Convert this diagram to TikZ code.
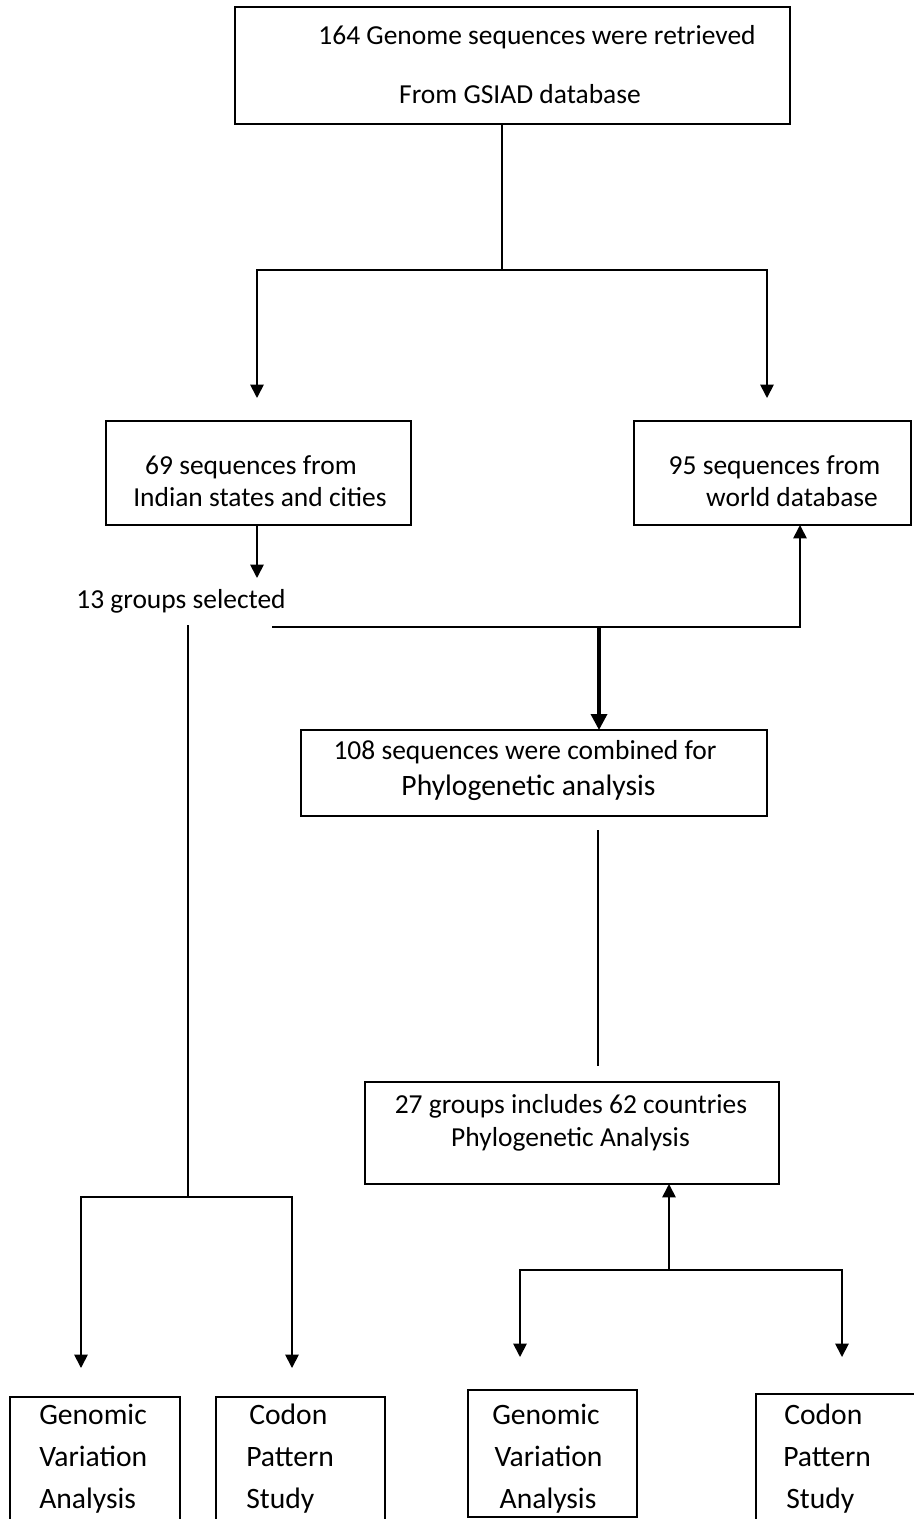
\documentclass[tikz,border=0pt]{standalone}
\usepackage{fontspec}
\setmainfont{Carlito}
\usetikzlibrary{arrows.meta,fit}
\begin{document}
\begin{tikzpicture}[x=0.75pt,y=-0.75pt,
  box/.style={draw,line width=1.3pt,inner sep=0pt,outer sep=0pt,rectangle},
  ln/.style={line width=1.3pt},
  thin/.style={line width=1pt},
  arr/.style={line width=1.3pt,-{Triangle[length=10pt,width=10pt]}},
  bigarr/.style={line width=2.6pt,-{Triangle[length=12pt,width=12pt]}},
  txt/.style={inner sep=0pt,anchor=base,font=\fontsize{20.6}{24}\selectfont},
  txtb/.style={inner sep=0pt,anchor=base,font=\fontsize{22.2}{26}\selectfont},
  txtw/.style={inner sep=0pt,anchor=base west,font=\fontsize{22.2}{26}\selectfont}]
\useasboundingbox (0,0) rectangle (913,1519);
% boxes
\node[box,fit={(235,7)(790,124)}] (T) {};
\node[box,fit={(106,421)(411,525)}] (L) {};
\node[box,fit={(634,421)(911,525)}] (R) {};
\node[box,fit={(301,730)(767,816)}] (C) {};
\node[box,fit={(365,1082)(779,1184)}] (D) {};
\node[box,fit={(10,1397)(180,1545)}] (B1) {};
\node[box,fit={(216,1397)(385,1545)}] (B2) {};
\node[box,fit={(468,1390)(637,1517)}] (B3) {};
\node[box,fit={(756,1394)(935,1545)}] (B4) {};
% texts
\node[txt] (t1) at (537,45) {164 Genome sequences were retrieved};
\node[txt] (t2) at (520,104) {From GSIAD database};
\node[txt] (l1) at (251,474) {69 sequences from};
\node[txt] (l2) at (260,506) {Indian states and cities};
\node[txt] (r1) at (774.5,474) {95 sequences from};
\node[txt] (r2) at (792,506) {world database};
\node[txt] (G13) at (181,608) {13 groups selected};
\node[txt] (c1) at (525,759) {108 sequences were combined for};
\node[txtb] (c2) at (528.5,795) {Phylogenetic analysis};
\node[txt] (d1) at (571,1113) {27 groups includes 62 countries};
\node[txt] (d2) at (570.5,1146) {Phylogenetic Analysis};
\node[txtw] (b11) at (39,1424) {Genomic};
\node[txtw] (b12) at (39,1466) {Variation};
\node[txtw] (b13) at (39,1508) {Analysis};
\node[txtw] (b21) at (249,1424) {Codon};
\node[txtw] (b22) at (246,1466) {Pattern};
\node[txtw] (b23) at (246,1508) {Study};
\node[txtb] (b31) at (546,1424) {Genomic};
\node[txtb] (b32) at (548.5,1466) {Variation};
\node[txtb] (b33) at (548,1508) {Analysis};
\node[txtw] (b41) at (784,1424) {Codon};
\node[txtw] (b42) at (783,1466) {Pattern};
\node[txtw] (b43) at (786,1508) {Study};
% coordinates
\coordinate (j1) at (502,270);
\coordinate (a1) at (257,398);
\coordinate (a2) at (767,398);
\coordinate (a3) at (257,578);
\coordinate (v1) at (188,625);
\coordinate (v2) at (188,1197);
\coordinate (a4) at (81,1368);
\coordinate (a5) at (292,1368);
\coordinate (h1) at (272,627);
\coordinate (h2) at (599,627);
\coordinate (p1) at (598,830);
\coordinate (p2) at (598,1066);
\coordinate (u1) at (669,1270);
\coordinate (a6) at (520,1357);
\coordinate (a7) at (842,1357);
% connectors
\draw[ln] (T.south -| j1) -- (j1);
\draw[arr] (j1) -| (a1);
\draw[arr] (j1) -| (a2);
\draw[arr] (L.south -| a3) -- (a3);
\draw[thin] (v1) -- (v2);
\draw[arr] (v2) -| (a4);
\draw[arr] (v2) -| (a5);
\draw[arr] (h1) -| (R.south -| 800,0);
\draw[bigarr] (h2) -- (C.north -| h2);
\draw[thin] (p1) -- (p2);
\draw[arr] (u1) -- (D.south -| u1);
\draw[arr] (u1) -| (a6);
\draw[arr] (u1) -| (a7);
\end{tikzpicture}
\end{document}
